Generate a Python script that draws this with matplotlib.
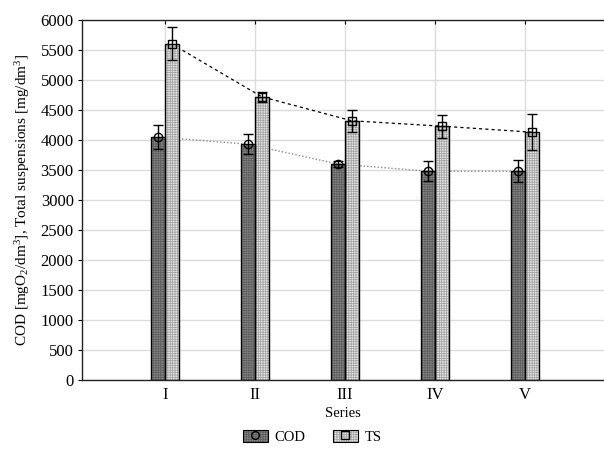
import numpy as np
import matplotlib
matplotlib.use('Agg')
import matplotlib.pyplot as plt
from matplotlib.patches import Patch
from matplotlib.lines import Line2D
from matplotlib.legend_handler import HandlerTuple

plt.rcParams['font.family'] = ['Liberation Serif', 'DejaVu Serif']
plt.rcParams['mathtext.fontset'] = 'custom'
plt.rcParams['mathtext.rm'] = 'Liberation Serif'
plt.rcParams['mathtext.it'] = 'Liberation Serif:italic'
plt.rcParams['hatch.linewidth'] = 0.5

series = ['I', 'II', 'III', 'IV', 'V']
cod = [4050, 3930, 3600, 3480, 3480]
cod_err = [200, 165, 50, 170, 180]
ts = [5600, 4720, 4320, 4230, 4130]
ts_err = [275, 80, 180, 190, 300]

x = np.arange(len(series))
w = 0.155

fig = plt.figure(figsize=(6.04, 4.5), dpi=100)
ax = fig.add_axes([0.1358, 0.1556, 0.8642, 0.8])

# lines joining the means sit behind the bars
ax.plot(x - w/2, cod, color='#8c8c8c', ls=(0, (1, 1.5)), lw=1.0, zorder=2)
ax.plot(x + w/2, ts, color='black', ls=(0, (2.5, 2.5)), lw=0.9, zorder=2)

# bars: hatched fill then black outline
ax.bar(x - w/2, cod, w, color='#858585', edgecolor='#5a5a5a', hatch='+++++++', lw=0, zorder=3)
ax.bar(x + w/2, ts, w, color='#e4e4e4', edgecolor='#a0a0a0', hatch='+++++++', lw=0, zorder=3)
ax.bar(x - w/2, cod, w, fill=False, edgecolor='black', lw=1.0, zorder=4)
ax.bar(x + w/2, ts, w, fill=False, edgecolor='black', lw=1.0, zorder=4)

ax.errorbar(x - w/2, cod, yerr=cod_err, fmt='o', mfc='none', mec='black', ms=6,
            ecolor='black', elinewidth=1.0, capsize=3.6, capthick=1.0, zorder=5)
ax.errorbar(x + w/2, ts, yerr=ts_err, fmt='s', mfc='none', mec='black', ms=6,
            ecolor='black', elinewidth=1.0, capsize=3.6, capthick=1.0, zorder=5)

ax.set_xlim(-0.92, 4.88)
ax.set_ylim(0, 6000)
ax.set_yticks(np.arange(0, 6001, 500))
ax.set_xticks(x)
ax.set_xticklabels(series)
ax.tick_params(axis='y', direction='out', length=3, labelsize=12, pad=3)
ax.tick_params(axis='x', bottom=False, top=True, direction='in', length=3, labelsize=12, pad=5)
ax.grid(True, color='#dcdcdc', lw=1.0, zorder=0)
ax.set_axisbelow(True)
ax.spines['right'].set_visible(False)
for s in ['left', 'bottom', 'top']:
    ax.spines[s].set_color('#222222')
    ax.spines[s].set_linewidth(1.0)

ax.set_xlabel('Series', fontsize=10.5, labelpad=3)
ax.set_ylabel('COD [mgO$_2$/dm$^3$], Total suspensions [mg/dm$^3$]', fontsize=11, labelpad=6)

h_cod = (Patch(facecolor='#858585', edgecolor='#5a5a5a', hatch='+++++++', lw=0),
         Patch(fill=False, edgecolor='black', lw=0.8),
         Line2D([], [], marker='o', ls='none', mfc='none', mec='black', ms=5.5))
h_ts = (Patch(facecolor='#e4e4e4', edgecolor='#a0a0a0', hatch='+++++++', lw=0),
        Patch(fill=False, edgecolor='black', lw=0.8),
        Line2D([], [], marker='s', ls='none', mfc='none', mec='black', ms=5.5))
fig.legend([h_cod, h_ts], ['COD', 'TS'], loc='center', bbox_to_anchor=(0.517, 0.029),
           ncol=2, frameon=False, fontsize=10.5, handler_map={tuple: HandlerTuple(ndivide=1, pad=0)},
           handlelength=1.7, handleheight=0.85, columnspacing=1.9, handletextpad=0.45)

fig.savefig('out.png', dpi=100)
